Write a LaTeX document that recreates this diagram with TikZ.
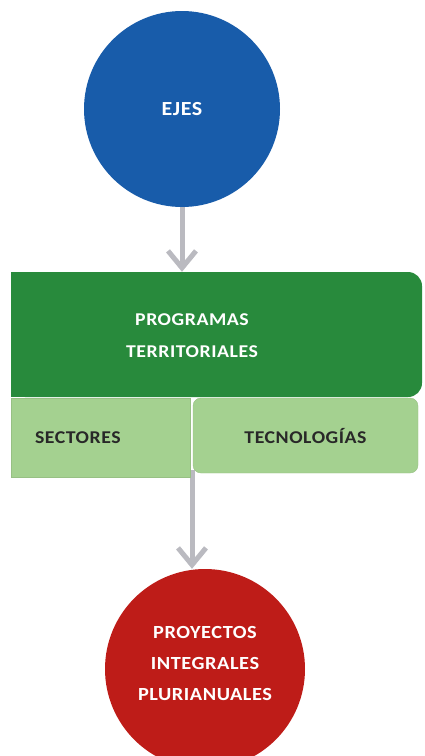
\documentclass[tikz,border=0pt]{standalone}
\usepackage{fontspec}
\setmainfont{Carlito}
\newfontfamily\diagfont[FakeStretch=1.1,LetterSpace=3]{Carlito}
\usetikzlibrary{shapes,arrows.meta,positioning,calc}
\definecolor{EjesBlue}{RGB}{24, 92, 170}
\definecolor{ProgGreen}{RGB}{40, 138, 60}
\definecolor{LightGreen}{RGB}{164, 209, 144}
\definecolor{ProyRed}{RGB}{190, 28, 24}
\definecolor{ArrowGray}{RGB}{186, 186, 192}
\definecolor{DarkText}{RGB}{40, 40, 40}

\begin{document}
\begin{tikzpicture}[
    x=1pt, y=-1pt,
    circ/.style={circle, inner sep=0pt, align=center, text=white},
    progbox/.style={rectangle, rounded corners=14pt, fill=ProgGreen, minimum width=411pt, minimum height=125pt, inner sep=0pt},
    lightbox/.style={rectangle, fill=LightGreen, draw=LightGreen!92!black, line width=0.4pt, text=DarkText, font={\diagfont\bfseries\fontsize{18}{22}\selectfont}},
    flecha/.style={draw=ArrowGray, line width=5pt, -{Straight Barb[length=17pt, width=28pt]}},
  ]
    \useasboundingbox (0,0) rectangle (425,756);

    % ejes
    \node[circ, fill=EjesBlue, minimum size=196pt, font={\diagfont\bfseries\fontsize{20}{24}\selectfont}] (ejes) at (182,109) {EJES};

    % programas territoriales
    \node[progbox] (prog) at (216.5,334.5) {};
    \fill[ProgGreen] (prog.north west) rectangle (prog.south);
    \node[align=center, text=white, font={\diagfont\bfseries\fontsize{18}{32}\selectfont}] (progtxt) at (192,336) {PROGRAMAS\\TERRITORIALES};

    \draw[flecha] (ejes.south) -- (ejes.south |- prog.north);

    % proyectos
    \coordinate (split) at (192,470);
    \node[circ, fill=ProyRed, minimum size=200pt] (proy) at (205,669) {};
    \node[align=center, text=white, font={\diagfont\bfseries\fontsize{18.5}{31}\selectfont}] (proytxt) at (205,663) {PROYECTOS\\INTEGRALES\\PLURIANUALES};
    \draw[flecha] (split) -- (split |- proy.north);

    % sectores / tecnologias
    \node[lightbox, minimum width=179pt, minimum height=79pt, text width=131pt, inner xsep=24pt, align=left] (sect) at (100.5,437.5) {SECTORES};
    \node[lightbox, rounded corners=8pt, minimum width=225pt, minimum height=75pt, align=center] (tecno) at (305.5,435.5) {TECNOLOGÍAS};
  \end{tikzpicture}
\end{document}
